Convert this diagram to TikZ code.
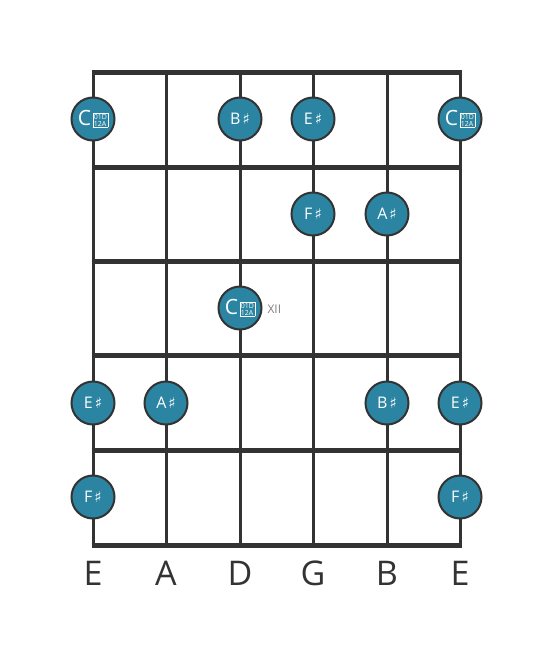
\documentclass[tikz,border=0pt]{standalone}
\usepackage{fontspec}
\setmainfont{Open Sans}
\newfontfamily\symfont{DejaVu Sans}
\usepackage{tikz}

\definecolor{notefill}{HTML}{2A84A2}
\definecolor{boardline}{HTML}{333333}
\newcommand{\shp}{\kern2pt{\symfont\fontsize{15}{15}\selectfont\char"266F}}
\newcommand{\dblsharp}{\kern1.5pt{\fontsize{7}{7.5}\selectfont\setlength{\fboxsep}{0.6pt}\setlength{\fboxrule}{0.5pt}\raisebox{-1pt}{\fbox{\vbox{\baselineskip=7.5pt\hbox{01D}\hbox{12A}}}}}}
\newcommand{\bigC}{{\fontsize{21}{21}\selectfont C}}

\tikzset{
  note/.style={circle, draw=boardline, line width=2pt, fill=notefill, minimum size=43pt, inner sep=0pt, text=white, font=\fontsize{16}{16}\selectfont},
  stringlabel/.style={font=\fontsize{34}{34}\selectfont, text=boardline}
}

\begin{document}
\begin{tikzpicture}[x=1pt,y=-1pt]
			\useasboundingbox (0,0) rectangle (553,656);
			% strings
			\foreach \x in {93,166,240,313,387,460}
				\draw[boardline, line width=3pt] (\x,72) -- (\x,545);
			% frets
			\foreach \y in {72,167,261,355,450,545}
				\draw[boardline, line width=5pt] (91.5,\y) -- (461.5,\y);
			% notes
			\node[note] (n1a) at (93,119) {\bigC\dblsharp};
			\node[note] (n1b) at (240,119) {B\shp};
			\node[note] (n1c) at (313,119) {E\shp};
			\node[note] (n1d) at (460,119) {\bigC\dblsharp};
			\node[note] (n2a) at (313,214) {F\shp};
			\node[note] (n2b) at (387,214) {A\shp};
			\node[note] (n3a) at (240,308) {\bigC\dblsharp};
			\node[right, text=gray, font=\fontsize{12}{12}\selectfont] (pos) at (264,309) {XII};
			\node[note] (n4a) at (93,403) {E\shp};
			\node[note] (n4b) at (166,403) {A\shp};
			\node[note] (n4c) at (387,403) {B\shp};
			\node[note] (n4d) at (460,403) {E\shp};
			\node[note] (n5a) at (93,497) {F\shp};
			\node[note] (n5b) at (460,497) {F\shp};
			% open strings
			\foreach \x/\s in {93/E,166/A,240/D,313/G,387/B,460/E}
				\node[stringlabel] (s\x) at (\x,573) {\s};
		\end{tikzpicture}
\end{document}
